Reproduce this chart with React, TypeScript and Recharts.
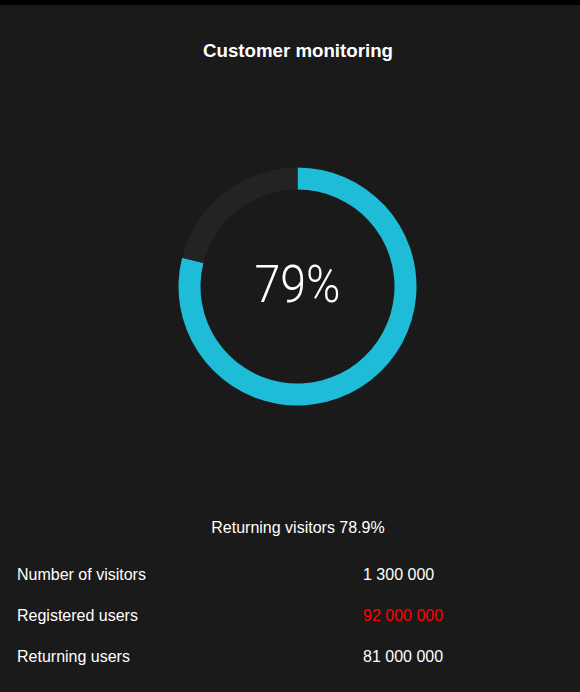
import React from "react";
import { PieChart, Pie, Cell } from "recharts";

// donut share of returning visitors
const segmentNames = ["Returning visitors", "Other visitors"];
const segmentValues = [78.9, 21.1];

// stats table below the chart
const statLabels = ["Number of visitors", "Registered users", "Returning users"];
const statValues = ["1 300 000", "92 000 000", "81 000 000"];

const COLORS = {
  bg: "#1a1a1a",
  ring: "#1ebcd7",
  track: "#232323",
  text: "#ffffff",
  alert: "#ff0000",
};
const HIGHLIGHT_ROW = 1;
const FONT = '"Liberation Sans", Arial, sans-serif';

export default function App() {
  const data = segmentNames.map((name, i) => ({ name, value: segmentValues[i] }));
  const share = segmentValues[0];

  return (
    <div
      style={{
        position: "absolute",
        left: 0,
        top: 0,
        width: 580,
        height: 692,
        background: COLORS.bg,
        fontFamily: FONT,
        color: COLORS.text,
        overflow: "hidden",
      }}
    >
      <div style={{ position: "absolute", left: 0, top: 0, width: 580, height: 5, background: "#000" }} />

      <div
        style={{
          position: "absolute",
          left: 0,
          width: 596,
          top: 41,
          textAlign: "center",
          fontSize: 18.7,
          fontWeight: "bold",
          lineHeight: "20px",
        }}
      >
        Customer monitoring
      </div>

      <div style={{ position: "absolute", left: 0, top: 0 }}>
        <PieChart width={580} height={460} margin={{ top: 0, right: 0, bottom: 0, left: 0 }}>
          <Pie
            data={data}
            dataKey="value"
            nameKey="name"
            cx={297.5}
            cy={286.5}
            innerRadius={97}
            outerRadius={119}
            startAngle={90}
            endAngle={-270}
            stroke="none"
            isAnimationActive={false}
          >
            <Cell fill={COLORS.ring} />
            <Cell fill={COLORS.track} />
          </Pie>
        </PieChart>
      </div>

      <svg
        width={580}
        height={460}
        style={{ position: "absolute", left: 0, top: 0, pointerEvents: "none" }}
      >
        <text
          x={297.5}
          y={302}
          textAnchor="middle"
          fill={COLORS.text}
          fontFamily="Roboto, sans-serif"
          fontWeight={300}
          fontSize={52}
          textLength={86}
          lengthAdjust="spacingAndGlyphs"
        >
          {Math.round(share)}%
        </text>
      </svg>

      <div
        style={{
          position: "absolute",
          left: 0,
          width: 596,
          top: 519,
          textAlign: "center",
          fontSize: 16,
          lineHeight: "18px",
        }}
      >
        Returning visitors {share}%
      </div>

      {statLabels.map((label, i) => (
        <div
          key={label}
          style={{
            position: "absolute",
            left: 0,
            top: 566 + i * 41,
            width: 580,
            height: 18,
            fontSize: 16,
            lineHeight: "18px",
          }}
        >
          <span style={{ position: "absolute", left: 17 }}>{label}</span>
          <span
            style={{
              position: "absolute",
              left: 363,
              color: i === HIGHLIGHT_ROW ? COLORS.alert : COLORS.text,
            }}
          >
            {statValues[i]}
          </span>
        </div>
      ))}
    </div>
  );
}
